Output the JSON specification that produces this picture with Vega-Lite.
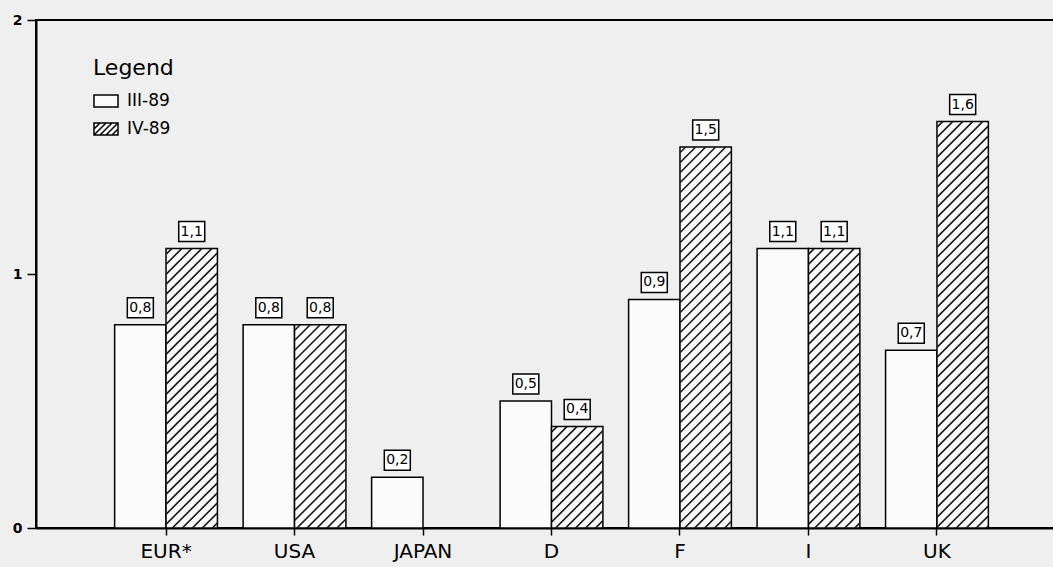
{
  "$schema": "https://vega.github.io/schema/vega-lite/v6.json",
  "width": 1031,
  "height": 508,
  "autosize": "none",
  "padding": {"left": 36, "top": 20, "right": 0, "bottom": 39},
  "background": "#efefef",
  "config": {
    "view": {"stroke": "black", "strokeWidth": 2},
    "font": "DejaVu Sans",
    "locale": {"number": {"decimal": ",", "thousands": ".", "grouping": [3], "currency": ["", ""]}}
  },
  "data": {
    "values": [
      {"country": "EUR*", "series": "III-89", "value": 0.8},
      {"country": "EUR*", "series": "IV-89", "value": 1.1},
      {"country": "USA", "series": "III-89", "value": 0.8},
      {"country": "USA", "series": "IV-89", "value": 0.8},
      {"country": "JAPAN", "series": "III-89", "value": 0.2},
      {"country": "D", "series": "III-89", "value": 0.5},
      {"country": "D", "series": "IV-89", "value": 0.4},
      {"country": "F", "series": "III-89", "value": 0.9},
      {"country": "F", "series": "IV-89", "value": 1.5},
      {"country": "I", "series": "III-89", "value": 1.1},
      {"country": "I", "series": "IV-89", "value": 1.1},
      {"country": "UK", "series": "III-89", "value": 0.7},
      {"country": "UK", "series": "IV-89", "value": 1.6}
    ]
  },
  "encoding": {
    "x": {
      "field": "country", "type": "nominal",
      "sort": ["EUR*", "USA", "JAPAN", "D", "F", "I", "UK"],
      "scale": {"paddingInner": 0.2, "paddingOuter": 0.612},
      "axis": {"title": null, "labelAngle": 0, "labelFontSize": 20, "labelColor": "black",
               "domainColor": "black", "domainWidth": 2, "tickColor": "black", "tickSize": 7,
               "tickWidth": 1.5, "labelPadding": 6}
    },
    "xOffset": {"field": "series", "type": "nominal", "sort": ["III-89", "IV-89"], "scale": {"domain": ["III-89", "IV-89"]}},
    "y": {
      "field": "value", "type": "quantitative",
      "scale": {"domain": [0, 2], "nice": false},
      "axis": {"tickCount": 2, "title": null, "grid": false, "domainColor": "black", "domainWidth": 2,
               "tickColor": "black", "tickSize": 9, "tickWidth": 1.5, "labelFontSize": 14,
               "labelFontWeight": "bold", "labelColor": "black", "labelPadding": 5, "labelOverlap": false}
    }
  },
  "layer": [
    {
      "mark": {"type": "bar", "stroke": "black", "strokeWidth": 1.5},
      "encoding": {
        "fill": {
          "field": "series", "type": "nominal",
          "scale": {"domain": ["III-89", "IV-89"], "range": ["#fbfbfb", "#fbfbfb"]},
          "legend": {
            "title": "Legend", "orient": "none", "legendX": 57, "legendY": 38,
            "titleFontSize": 22, "titleFontWeight": "normal", "titleColor": "black", "titlePadding": 8,
            "labelFontSize": 17, "labelColor": "black", "labelOffset": 8,
            "symbolType": "M-1,-0.5H1V0.5H-1Z", "symbolSize": 576,
            "symbolStrokeColor": "black", "symbolStrokeWidth": 1.5, "rowPadding": 6,
            "encode": {
              "symbols": {
                "update": {
                  "shape": {"signal": "datum.value === 'IV-89' ? 'M-1,-0.5H1V0.5H-1ZM-1,0L-0.5,-0.5M-1,0.5L0,-0.5M-0.5,0.5L0.5,-0.5M0,0.5L1,-0.5M0.5,0.5L1,0' : 'M-1,-0.5H1V0.5H-1Z'"}
                }
              }
            }
          }
        }
      }
    },
    {
      "transform": [{"filter": "datum.series === 'IV-89'"}],
      "mark": {
        "type": "point", "clip": true, "filled": false, "size": 4, "opacity": 1,
        "stroke": "#1a1a1a", "strokeWidth": 1.6,
        "shape": "M-25.5,5.5L-20,0M-25.5,15.5L-10,0M-25.5,25.5L0,0M-25.5,35.5L10,0M-25.5,45.5L20,0M-25.5,55.5L25.5,4.5M-25.5,65.5L25.5,14.5M-25.5,75.5L25.5,24.5M-25.5,85.5L25.5,34.5M-25.5,95.5L25.5,44.5M-25.5,105.5L25.5,54.5M-25.5,115.5L25.5,64.5M-25.5,125.5L25.5,74.5M-25.5,135.5L25.5,84.5M-25.5,145.5L25.5,94.5M-25.5,155.5L25.5,104.5M-25.5,165.5L25.5,114.5M-25.5,175.5L25.5,124.5M-25.5,185.5L25.5,134.5M-25.5,195.5L25.5,144.5M-25.5,205.5L25.5,154.5M-25.5,215.5L25.5,164.5M-25.5,225.5L25.5,174.5M-25.5,235.5L25.5,184.5M-25.5,245.5L25.5,194.5M-25.5,255.5L25.5,204.5M-25.5,265.5L25.5,214.5M-25.5,275.5L25.5,224.5M-25.5,285.5L25.5,234.5M-25.5,295.5L25.5,244.5M-25.5,305.5L25.5,254.5M-25.5,315.5L25.5,264.5M-25.5,325.5L25.5,274.5M-25.5,335.5L25.5,284.5M-25.5,345.5L25.5,294.5M-25.5,355.5L25.5,304.5M-25.5,365.5L25.5,314.5M-25.5,375.5L25.5,324.5M-25.5,385.5L25.5,334.5M-25.5,395.5L25.5,344.5M-25.5,405.5L25.5,354.5M-25.5,415.5L25.5,364.5M-25.5,425.5L25.5,374.5M-25.5,435.5L25.5,384.5M-25.5,445.5L25.5,394.5M-25.5,455.5L25.5,404.5M-25.5,465.5L25.5,414.5"
      }
    },
    {
      "mark": {"type": "point", "shape": "M-1,-0.77H1V0.77H-1Z", "size": 676, "filled": true,
               "fill": "white", "stroke": "black", "strokeWidth": 1.5, "opacity": 1, "yOffset": -17}
    },
    {
      "mark": {"type": "text", "dy": -17, "fontSize": 14, "color": "black"},
      "encoding": {"text": {"field": "value", "type": "quantitative", "format": ".1f"}}
    }
  ]
}
